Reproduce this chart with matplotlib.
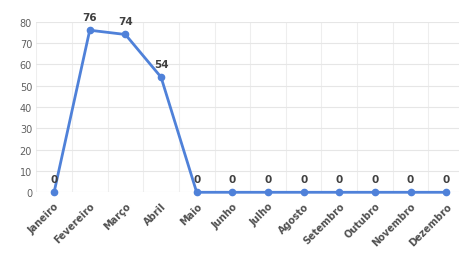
import matplotlib
matplotlib.use("Agg")
import matplotlib.pyplot as plt

months = ["Janeiro", "Fevereiro", "Março", "Abril", "Maio", "Junho", "Julho",
          "Agosto", "Setembro", "Outubro", "Novembro", "Dezembro"]
values = [0, 76, 74, 54, 0, 0, 0, 0, 0, 0, 0, 0]
yticks = [0, 10, 20, 30, 40, 50, 60, 70, 80]

fig = plt.figure(figsize=(4.59, 2.55), dpi=100)
ax = fig.add_axes([0.079, 0.242, 0.932, 0.669])
x = list(range(len(months)))
ax.plot(x, values, color="#4f81d9", lw=2, marker="o", ms=4.5, zorder=3, clip_on=False)
for xi, v in zip(x, values):
    ax.annotate(str(v), (xi, v), xytext=(0, 6), textcoords="offset points",
                ha="center", va="bottom", fontsize=7.5, fontweight="bold", color="#404040")
ax.set_xlim(-0.5, 11.5)
ax.set_ylim(0, 80)
ax.set_yticks(yticks)
ax.set_yticklabels([str(t) for t in yticks], fontsize=7, color="#606060")
ax.set_xticks(x)
ax.set_xticklabels(months, rotation=45, ha="right", rotation_mode="anchor",
                   fontsize=7, fontweight="bold", color="#505050")
ax.set_xticks([i + 0.5 for i in range(-1, 12)], minor=True)
ax.grid(True, axis="y", color="#e6e6e6", lw=0.8)
ax.grid(True, axis="x", which="minor", color="#eeeeee", lw=0.8)
ax.tick_params(length=0, which="both", pad=3)
ax.tick_params(axis="x", pad=6)
for s in ax.spines.values():
    s.set_visible(False)
fig.savefig("out.png", dpi=100)
